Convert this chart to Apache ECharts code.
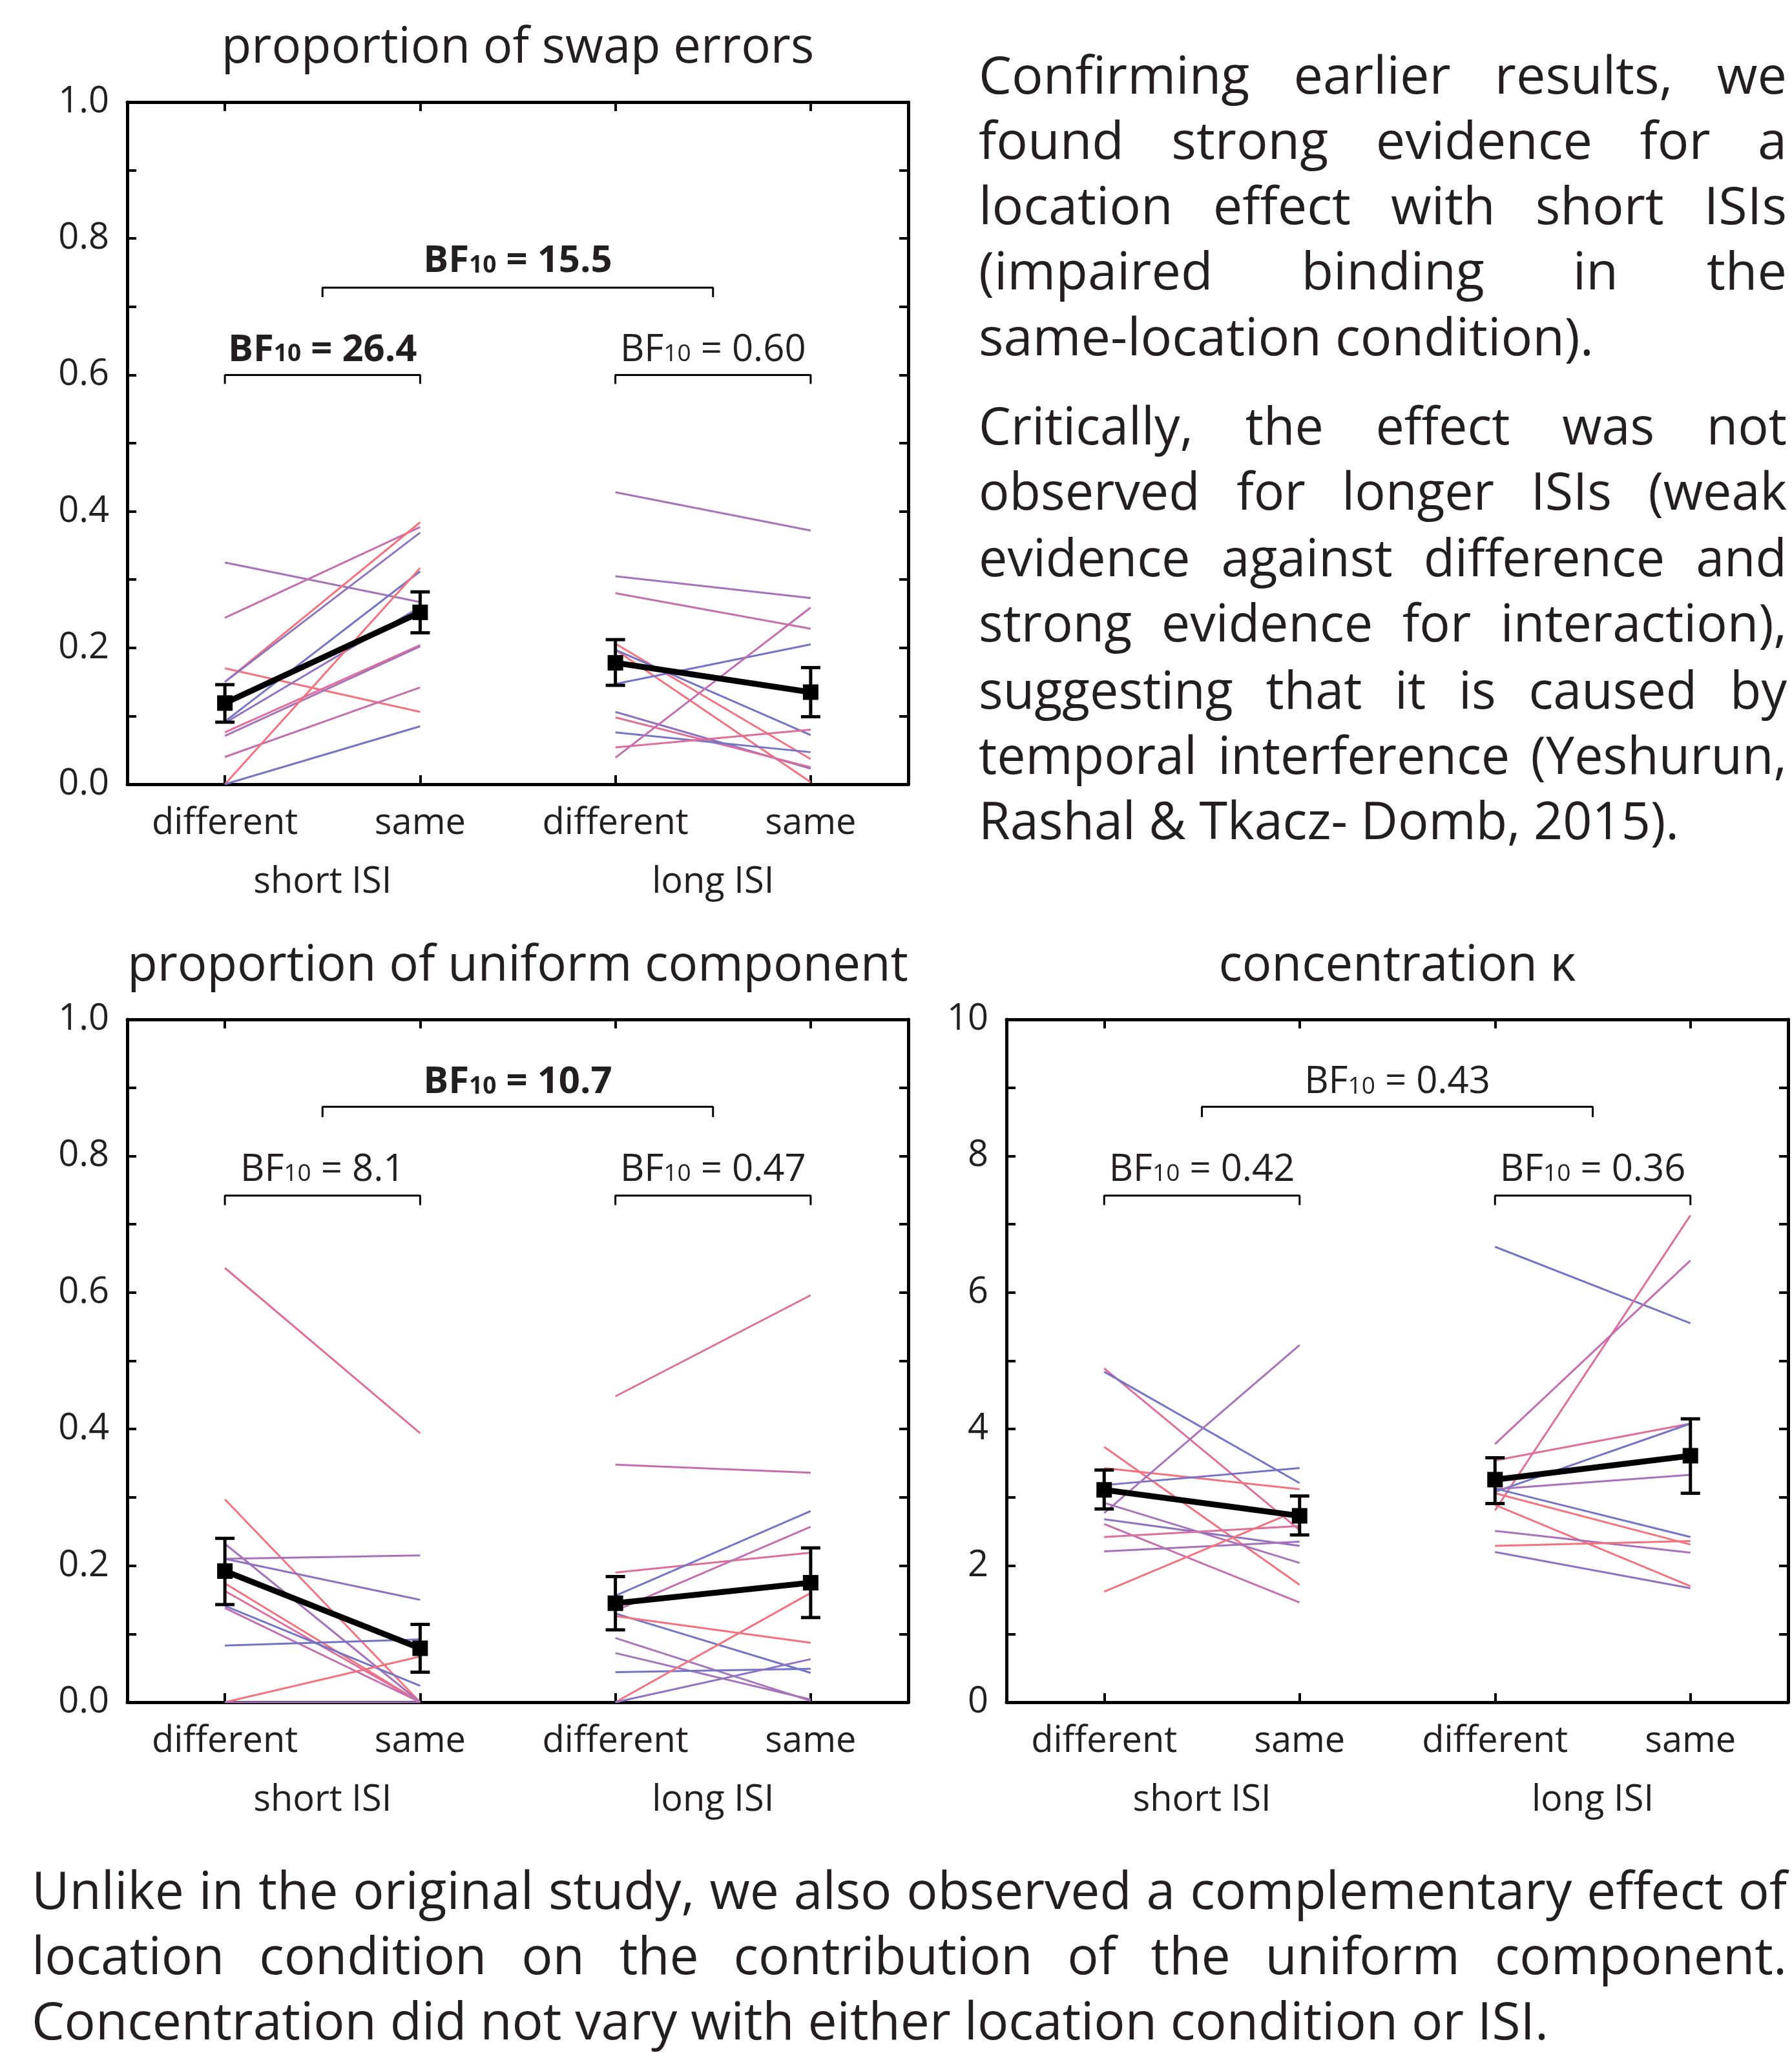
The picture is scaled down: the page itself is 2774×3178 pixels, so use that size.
<!DOCTYPE html>
<html><head><meta charset="utf-8">
<script src="https://cdn.jsdelivr.net/npm/echarts@6/dist/echarts.min.js"></script>
<style>html,body{margin:0;padding:0;background:#fff}#c{width:2774px;height:3178px}</style>
</head><body><div id="c"></div><script>
// ---------------- DATA ----------------
const conditions = ['different', 'same', 'different', 'same'];
const isiGroups = ['short ISI', 'long ISI'];
const propTickLabels = ['0.0', '0.2', '0.4', '0.6', '0.8', '1.0'];
const kappaTickLabels = ['0', '2', '4', '6', '8', '10'];
const panelTitles = ['proportion of swap errors', 'proportion of uniform component', 'concentration κ'];

// proportion of swap errors: per-subject values [different -> same]
const swapShortDiff = [0.325, 0.244, 0.170, 0.150, 0.150, 0.092, 0.090, 0.076, 0.071, 0.040, 0.000, 0.000];
const swapShortSame = [0.267, 0.377, 0.106, 0.384, 0.369, 0.312, 0.260, 0.204, 0.202, 0.142, 0.317, 0.085];
const swapLongDiff  = [0.428, 0.305, 0.280, 0.206, 0.197, 0.197, 0.147, 0.106, 0.098, 0.076, 0.054, 0.039];
const swapLongSame  = [0.372, 0.273, 0.228, 0.037, 0.003, 0.072, 0.205, 0.023, 0.025, 0.047, 0.080, 0.259];
const swapMean = [0.119, 0.252, 0.178, 0.135];
const swapLow  = [0.091, 0.222, 0.145, 0.099];
const swapHigh = [0.146, 0.282, 0.212, 0.171];
const swapBF = ['26.4', '0.60', '15.5'];   // short ISI, long ISI, interaction

// proportion of uniform component
const unifShortDiff = [0.636, 0.297, 0.232, 0.210, 0.210, 0.174, 0.163, 0.141, 0.138, 0.083, 0.000, 0.000];
const unifShortSame = [0.394, 0.000, 0.000, 0.215, 0.150, 0.000, 0.000, 0.024, 0.000, 0.092, 0.067, 0.000];
const unifLongDiff  = [0.448, 0.348, 0.190, 0.156, 0.134, 0.130, 0.126, 0.094, 0.072, 0.044, 0.000, 0.000];
const unifLongSame  = [0.596, 0.336, 0.219, 0.280, 0.257, 0.043, 0.087, 0.002, 0.004, 0.049, 0.160, 0.063];
const unifMean = [0.192, 0.079, 0.145, 0.175];
const unifLow  = [0.143, 0.044, 0.106, 0.124];
const unifHigh = [0.240, 0.114, 0.184, 0.226];
const unifBF = ['8.1', '0.47', '10.7'];

// concentration kappa
const kappaShortDiff = [4.89, 4.84, 3.74, 3.43, 3.18, 2.92, 2.77, 2.68, 2.61, 2.42, 2.21, 1.62];
const kappaShortSame = [2.52, 3.21, 1.72, 3.12, 3.43, 2.04, 5.23, 2.29, 1.46, 2.58, 2.35, 2.82];
const kappaLongDiff  = [6.67, 2.81, 3.78, 3.54, 3.08, 3.12, 3.13, 3.06, 2.89, 2.51, 2.29, 2.20];
const kappaLongSame  = [5.55, 7.13, 6.47, 4.08, 4.08, 3.33, 2.42, 2.31, 1.70, 2.19, 2.36, 1.67];
const kappaMean = [3.11, 2.73, 3.26, 3.61];
const kappaLow  = [2.83, 2.45, 2.91, 3.06];
const kappaHigh = [3.40, 3.02, 3.58, 4.15];
const kappaBF = ['0.42', '0.36', '0.43'];

// text
const para1 = ['Confirming earlier results, we', 'found strong evidence for a', 'location effect with short ISIs', '(impaired binding in the', 'same-location condition).'];
const para2 = ['Critically, the effect was not', 'observed for longer ISIs (weak', 'evidence against difference and', 'strong evidence for interaction),', 'suggesting that it is caused by', 'temporal interference (Yeshurun,', 'Rashal & Tkacz- Domb, 2015).'];
const para3 = ['Unlike in the original study, we also observed a complementary effect of', 'location condition on the contribution of the uniform component.', 'Concentration did not vary with either location condition or ISI.'];

// ---------------- STYLE / LAYOUT ----------------
const FONT = 'Open Sans';
const TXT = '#231f20';
const palette = ['#7474c6', '#8e72c2', '#a872ba', '#c26eb0', '#de6e9a', '#f2737e'];
const tones = {
  swapShort: [2, 3, 5, 5, 1, 0, 1, 4, 2, 3, 5, 0], swapLong: [2, 2, 3, 5, 5, 0, 0, 1, 4, 0, 4, 3],
  unifShort: [4, 5, 2, 2, 1, 5, 4, 0, 3, 0, 5, 2], unifLong: [4, 3, 4, 0, 3, 0, 5, 2, 2, 0, 5, 1],
  kappaShort: [4, 0, 5, 5, 0, 2, 2, 1, 3, 4, 2, 5], kappaLong: [0, 4, 3, 4, 0, 2, 0, 5, 5, 2, 5, 1]
};
const panels = [
  { box: [197, 158, 1209, 1056], yMax: 1, ticks: propTickLabels, title: panelTitles[0], titleTop: 37,
    sd: swapShortDiff, ss: swapShortSame, ld: swapLongDiff, ls: swapLongSame, ts: tones.swapShort, tl: tones.swapLong,
    mean: swapMean, lo: swapLow, hi: swapHigh, bf: swapBF, bold: [1, 0, 1],
    lv: { bar: 0.600, leg: 0.587, txt: 0.643, ibar: 0.728, ileg: 0.714, itxt: 0.773 } },
  { box: [197, 1578, 1209, 1057], yMax: 1, ticks: propTickLabels, title: panelTitles[1], titleTop: 1458,
    sd: unifShortDiff, ss: unifShortSame, ld: unifLongDiff, ls: unifLongSame, ts: tones.unifShort, tl: tones.unifLong,
    mean: unifMean, lo: unifLow, hi: unifHigh, bf: unifBF, bold: [0, 0, 1],
    lv: { bar: 0.742, leg: 0.728, txt: 0.786, ibar: 0.872, ileg: 0.857, itxt: 0.914 } },
  { box: [1558, 1578, 1210, 1057], yMax: 10, ticks: kappaTickLabels, title: panelTitles[2], titleTop: 1458,
    sd: kappaShortDiff, ss: kappaShortSame, ld: kappaLongDiff, ls: kappaLongSame, ts: tones.kappaShort, tl: tones.kappaLong,
    mean: kappaMean, lo: kappaLow, hi: kappaHigh, bf: kappaBF, bold: [0, 0, 0],
    lv: { bar: 0.742, leg: 0.728, txt: 0.786, ibar: 0.872, ileg: 0.857, itxt: 0.914 } }
];

const grids = [], xAxes = [], yAxes = [], series = [], titles = [];
const axLine = { show: true, onZero: false, lineStyle: { color: '#000', width: 5 } };
const axTick = { show: true, inside: true, length: 14, lineStyle: { color: '#000', width: 4 } };

panels.forEach((p, k) => {
  grids.push({ left: p.box[0], top: p.box[1], width: p.box[2], height: p.box[3] });
  const xb = xAxes.length, yb = yAxes.length;
  xAxes.push({ type: 'category', gridIndex: k, data: conditions, position: 'bottom', boundaryGap: true,
    axisLine: axLine, axisTick: Object.assign({ alignWithLabel: true }, axTick),
    axisLabel: { interval: 0, margin: 33, fontSize: 56, fontFamily: FONT, color: TXT }, splitLine: { show: false } });
  xAxes.push({ type: 'category', gridIndex: k, data: conditions, position: 'top', boundaryGap: true,
    axisLine: axLine, axisTick: Object.assign({ alignWithLabel: true }, axTick),
    axisLabel: { show: false }, splitLine: { show: false } });
  xAxes.push({ type: 'category', gridIndex: k, data: isiGroups, position: 'bottom', offset: 91, boundaryGap: true,
    axisLine: { show: false, onZero: false }, axisTick: { show: false },
    axisLabel: { interval: 0, margin: 33, fontSize: 56, fontFamily: FONT, color: TXT }, splitLine: { show: false } });
  xAxes.push({ type: 'value', gridIndex: k, min: 0, max: 4, show: false });
  const step = p.yMax / 10;
  yAxes.push({ type: 'value', gridIndex: k, min: 0, max: p.yMax, interval: step, position: 'left',
    axisLine: axLine, axisTick: axTick, splitLine: { show: false },
    axisLabel: { margin: 28, fontSize: 56, fontFamily: FONT, color: TXT,
      formatter: v => { const i = Math.round(v / step); return i % 2 === 0 ? p.ticks[i / 2] : ''; } } });
  yAxes.push({ type: 'value', gridIndex: k, min: 0, max: p.yMax, interval: step, position: 'right',
    axisLine: axLine, axisTick: axTick, splitLine: { show: false }, axisLabel: { show: false } });

  titles.push({ text: p.title, left: p.box[0] + p.box[2] / 2, top: p.titleTop, textAlign: 'center', padding: 0,
    textStyle: { fontFamily: FONT, fontSize: 76, fontWeight: 'normal', color: TXT } });

  // subject lines
  p.sd.forEach((v, i) => series.push({ type: 'line', xAxisIndex: xb, yAxisIndex: yb, data: [v, p.ss[i], '-', '-'],
    symbol: 'none', silent: true, z: 2, lineStyle: { color: palette[p.ts[i]], width: 3 } }));
  p.ld.forEach((v, i) => series.push({ type: 'line', xAxisIndex: xb, yAxisIndex: yb, data: ['-', '-', v, p.ls[i]],
    symbol: 'none', silent: true, z: 2, lineStyle: { color: palette[p.tl[i]], width: 3 } }));
  // error bars
  series.push({ type: 'custom', xAxisIndex: xb, yAxisIndex: yb, z: 4, silent: true,
    data: p.mean.map((m, i) => [i, p.lo[i], p.hi[i]]), encode: { x: 0, y: [1, 2] },
    renderItem: (params, api) => {
      const a = api.coord([api.value(0), api.value(2)]), b = api.coord([api.value(0), api.value(1)]);
      const st = { stroke: '#000', lineWidth: 5 }, hw = 15;
      return { type: 'group', children: [
        { type: 'line', shape: { x1: a[0], y1: a[1], x2: b[0], y2: b[1] }, style: st },
        { type: 'line', shape: { x1: a[0] - hw, y1: a[1], x2: a[0] + hw, y2: a[1] }, style: st },
        { type: 'line', shape: { x1: b[0] - hw, y1: b[1], x2: b[0] + hw, y2: b[1] }, style: st }] };
    } });
  // group means
  [[p.mean[0], p.mean[1], '-', '-'], ['-', '-', p.mean[2], p.mean[3]]].forEach(d => series.push({
    type: 'line', xAxisIndex: xb, yAxisIndex: yb, data: d, z: 5, silent: true,
    symbol: 'rect', symbolSize: 24, itemStyle: { color: '#000' }, lineStyle: { color: '#000', width: 9 } }));
  // brackets
  const Y = f => f * p.yMax;
  [[0.5, 1.5, p.lv.bar, p.lv.leg], [2.5, 3.5, p.lv.bar, p.lv.leg], [1, 3, p.lv.ibar, p.lv.ileg]].forEach(b => series.push({
    type: 'line', xAxisIndex: xb + 3, yAxisIndex: yb, symbol: 'none', silent: true, z: 3,
    data: [[b[0], Y(b[3])], [b[0], Y(b[2])], [b[1], Y(b[2])], [b[1], Y(b[3])]],
    lineStyle: { color: '#000', width: 3 } }));
  // Bayes factor labels
  series.push({ type: 'scatter', xAxisIndex: xb + 3, yAxisIndex: yb, symbolSize: 1, silent: true, z: 6,
    itemStyle: { color: 'rgba(0,0,0,0)', opacity: 1 },
    data: [[1, Y(p.lv.txt), p.bf[0], p.bold[0]], [3, Y(p.lv.txt), p.bf[1], p.bold[1]], [2, Y(p.lv.itxt), p.bf[2], p.bold[2]]],
    label: { show: true, position: 'inside', color: TXT, opacity: 1,
      formatter: prm => { const d = prm.data; const m = d[3] ? 'b' : 'm', s = d[3] ? 'bs' : 's';
        return '{' + m + '|BF}{' + s + '|10}{' + m + '| = ' + d[2] + '}'; },
      rich: {
        m: { fontSize: 58, fontFamily: FONT, color: TXT, lineHeight: 72, verticalAlign: 'bottom' },
        b: { fontSize: 58, fontFamily: FONT, color: TXT, fontWeight: 'bold', lineHeight: 72, verticalAlign: 'bottom' },
        s: { fontSize: 37, fontFamily: FONT, color: TXT, verticalAlign: 'bottom', padding: [0, 0, 4, 0] },
        bs: { fontSize: 37, fontFamily: FONT, color: TXT, fontWeight: 'bold', verticalAlign: 'bottom', padding: [0, 0, 4, 0] }
      } } });
});

// ---------------- justified paragraphs ----------------
const mctx = document.createElement('canvas').getContext('2d');
const PFS = 80;
function tw(s) { mctx.font = PFS + 'px "' + FONT + '"'; return mctx.measureText(s).width; }
const graphics = [];
function paragraph(lines, left, right, ys, lastWidth) {
  const sx = lastWidth / tw(lines[lines.length - 1]);
  const W = right - left;
  lines.forEach((line, li) => {
    const words = line.split(' ');
    const ww = words.map(w => tw(w) * sx);
    const last = li === lines.length - 1;
    const gap = last || words.length < 2 ? tw(' ') * sx : (W - ww.reduce((a, b) => a + b, 0)) / (words.length - 1);
    let x = left;
    words.forEach((w, wi) => {
      graphics.push({ type: 'text', x: x, y: ys[li], scaleX: sx, silent: true,
        style: { text: w, fontSize: PFS, fontFamily: FONT, fill: TXT, align: 'left', verticalAlign: 'middle' } });
      x += ww[wi] + gap;
    });
  });
}
paragraph(para1, 1515, 2766, [122, 223, 324, 425, 527], 952);
paragraph(para2, 1515, 2766, [665, 766, 869, 970, 1074, 1175, 1276], 1084);
paragraph(para3, 49, 2766, [2932, 3033, 3134], 2348);

const chart = echarts.init(document.getElementById('c'), null, { renderer: 'canvas' });
chart.setOption({ animation: false, backgroundColor: '#fff', title: titles, grid: grids,
  xAxis: xAxes, yAxis: yAxes, series: series, graphic: graphics });
</script></body></html>
